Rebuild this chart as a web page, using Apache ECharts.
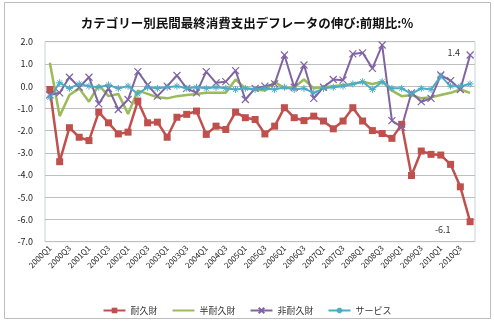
<!DOCTYPE html>
<html>
<head>
<meta charset="utf-8">
<script src="https://cdn.jsdelivr.net/npm/echarts@6/dist/echarts.min.js"></script>
<style>
html,body{margin:0;padding:0;background:#fff;}
#c{width:494px;height:327px;}
</style>
</head>
<body>
<div id="c"></div>
<script>
const categories = ['2000Q1','2000Q2','2000Q3','2000Q4','2001Q1','2001Q2','2001Q3','2001Q4',
  '2002Q1','2002Q2','2002Q3','2002Q4','2003Q1','2003Q2','2003Q3','2003Q4',
  '2004Q1','2004Q2','2004Q3','2004Q4','2005Q1','2005Q2','2005Q3','2005Q4',
  '2006Q1','2006Q2','2006Q3','2006Q4','2007Q1','2007Q2','2007Q3','2007Q4',
  '2008Q1','2008Q2','2008Q3','2008Q4','2009Q1','2009Q2','2009Q3','2009Q4',
  '2010Q1','2010Q2','2010Q3','2010Q4'];

const durable = [-0.15, -3.4, -1.87, -2.3, -2.45, -1.17, -1.65, -2.15, -2.07, -0.67, -1.65, -1.62,
  -2.3, -1.4, -1.27, -1.12, -2.17, -1.8, -1.95, -1.17, -1.42, -1.5, -2.15, -1.8,
  -0.97, -1.42, -1.55, -1.35, -1.57, -1.92, -1.57, -0.97, -1.57, -2.0, -2.13, -2.35,
  -1.72, -4.02, -2.92, -3.07, -3.1, -3.52, -4.53, -6.1];

const semiDurable = [1.05, -1.35, -0.4, -0.1, -0.7, 0.05, -0.45, -0.35, -1.25, -0.2, -0.35, -0.5,
  -0.55, -0.45, -0.4, -0.35, -0.3, -0.3, -0.3, 0.3, -0.1, -0.15, -0.2, 0.2,
  -0.1, -0.05, 0.3, -0.1, -0.05, 0.0, 0.05, 0.1, 0.2, 0.1, 0.2, -0.2,
  -0.45, -0.4, -0.55, -0.5, -0.4, -0.3, -0.15, -0.3];

const nonDurable = [-0.4, -0.3, 0.4, -0.05, 0.4, -0.8, -0.1, -1.05, -0.6, 0.65, 0.05, -0.45,
  0.0, 0.48, -0.1, -0.3, 0.65, 0.15, 0.2, 0.7, -0.6, -0.1, 0.0, 0.1,
  1.4, -0.05, 0.95, -0.55, -0.05, 0.3, 0.27, 1.45, 1.5, 0.8, 1.85, -1.55,
  -1.85, -0.3, -0.7, -0.55, 0.5, 0.25, -0.15, 1.4];

const services = [-0.5, 0.15, -0.1, 0.1, 0.0, -0.05, 0.05, -0.1, 0.0, -0.35, -0.05, -0.1,
  -0.05, 0.0, -0.1, -0.05, -0.1, -0.05, -0.1, -0.15, -0.1, -0.15, -0.1, -0.15,
  -0.05, -0.15, -0.1, -0.3, -0.1, -0.05, 0.0, 0.1, 0.2, -0.15, 0.2, -0.1,
  -0.1, -0.35, -0.1, -0.15, 0.45, 0.0, 0.0, 0.1];

const seriesNames = ['耐久財', '半耐久財', '非耐久財', 'サービス'];
const colors = ['#C0504D', '#9BBB59', '#8064A2', '#4BACC6'];
const titleText = 'カテゴリー別民間最終消費支出デフレータの伸び:前期比:%';

const FONT = '"Noto Sans CJK JP", "Noto Sans", sans-serif';
const lastIdx = categories.length - 1;
const lastLabel = p => p.dataIndex === lastIdx ? p.value.toFixed(1) : '';

const chart = echarts.init(document.getElementById('c'), null, {renderer: 'canvas'});
chart.setOption({
  animation: false,
  backgroundColor: '#fff',
  textStyle: {fontFamily: FONT},
  graphic: [{
    type: 'rect', shape: {x: 4.5, y: 2.5, width: 486, height: 316},
    style: {fill: 'none', stroke: '#bdbdbd', lineWidth: 1}, silent: true
  }],
  title: {
    text: titleText, left: 'center', top: 12,
    textStyle: {fontFamily: FONT, fontSize: 12.5, fontWeight: 'bold', color: '#111'}
  },
  legend: {
    data: [
      {name: seriesNames[0]},
      {name: seriesNames[1], itemStyle: {opacity: 0}},
      {name: seriesNames[2]},
      {name: seriesNames[3]}
    ],
    left: 'center', top: 301,
    itemWidth: 22, itemHeight: 7, itemGap: 14,
    textStyle: {fontFamily: FONT, fontSize: 9, color: '#333'}
  },
  grid: {left: 45, right: 19, top: 41.7, bottom: 85.3, show: true, borderColor: '#c6d2de', borderWidth: 1},
  xAxis: {
    type: 'category', data: categories, boundaryGap: true,
    axisLine: {show: false}, axisTick: {show: false},
    axisLabel: {interval: 1, rotate: 45, fontSize: 8, color: '#222', margin: 5, fontFamily: FONT}
  },
  yAxis: {
    type: 'value', min: -7, max: 2, interval: 1,
    axisLine: {show: false}, axisTick: {show: false},
    axisLabel: {formatter: v => v.toFixed(1), fontSize: 9, color: '#222', margin: 12, fontFamily: FONT},
    splitLine: {lineStyle: {color: '#bfbfbf', width: 1}}
  },
  series: [
    {
      name: seriesNames[0], type: 'line', data: durable,
      symbol: 'rect', symbolSize: 7, showAllSymbol: true,
      itemStyle: {color: colors[0]}, lineStyle: {color: colors[0], width: 2.5},
      label: {show: true, position: 'left', distance: 16, offset: [0, 8], formatter: lastLabel,
        fontSize: 9, color: '#333', fontFamily: FONT}
    },
    {
      name: seriesNames[1], type: 'line', data: semiDurable,
      symbol: 'circle', showSymbol: false,
      itemStyle: {color: colors[1]},
      lineStyle: {color: colors[1], width: 2.5}
    },
    {
      name: seriesNames[2], type: 'line', data: nonDurable,
      symbol: 'path://M0,0L10,10M10,0L0,10', symbolSize: 7, showAllSymbol: true,
      itemStyle: {color: colors[2], borderColor: colors[2], borderWidth: 1.2},
      lineStyle: {color: colors[2], width: 2},
      label: {show: true, position: 'left', distance: 6, offset: [0, -2], formatter: lastLabel,
        fontSize: 9, color: '#333', fontFamily: FONT}
    },
    {
      name: seriesNames[3], type: 'line', data: services,
      symbol: 'path://M5,0L5,10M0,5L10,5M1.5,1.5L8.5,8.5M8.5,1.5L1.5,8.5', symbolSize: 7, showAllSymbol: true,
      itemStyle: {color: colors[3], borderColor: colors[3], borderWidth: 1},
      lineStyle: {color: colors[3], width: 2}
    }
  ]
});
</script>
</body>
</html>
